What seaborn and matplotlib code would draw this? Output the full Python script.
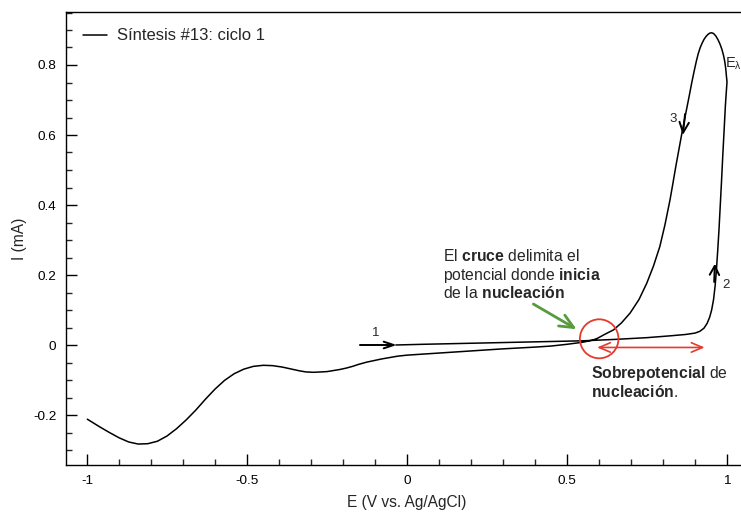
import matplotlib
matplotlib.use("Agg")
import matplotlib.pyplot as plt
import numpy as np
import pandas as pd
import seaborn as sns
from matplotlib.patches import Ellipse
from matplotlib.ticker import MultipleLocator, FuncFormatter

# Cyclic voltammogram, synthesis #13, cycle 1 (E in V vs. Ag/AgCl, I in mA)
e_forward = [-0.035, 0.05, 0.15, 0.25, 0.35, 0.45, 0.55, 0.65, 0.75, 0.82,
             0.87, 0.90, 0.915, 0.928, 0.938, 0.946, 0.952, 0.958, 0.963,
             0.967, 0.971, 0.975, 0.979, 0.983, 0.987, 0.991, 0.995, 1.000]
i_forward = [0.000, 0.002, 0.004, 0.006, 0.008, 0.010, 0.012, 0.016, 0.021, 0.026,
             0.030, 0.034, 0.039, 0.048, 0.062, 0.080, 0.100, 0.130, 0.170,
             0.215, 0.270, 0.330, 0.400, 0.470, 0.545, 0.614, 0.685, 0.752]

e_reverse = [0.998, 0.996, 0.993, 0.989, 0.984, 0.978, 0.972, 0.965, 0.958, 0.952,
             0.946, 0.940, 0.934, 0.928, 0.922, 0.916, 0.910, 0.904, 0.897, 0.890,
             0.882, 0.874, 0.866, 0.858, 0.849, 0.840, 0.831, 0.822, 0.806, 0.790,
             0.770, 0.749, 0.725, 0.697, 0.670, 0.645, 0.617, 0.595, 0.580, 0.550,
             0.500, 0.450, 0.400, 0.300, 0.200, 0.100, 0.050, 0.000, -0.030, -0.080,
             -0.126, -0.150, -0.170, -0.190, -0.210, -0.230, -0.250, -0.270, -0.293,
             -0.315, -0.335, -0.360, -0.390, -0.420, -0.449, -0.480, -0.510, -0.540,
             -0.570, -0.600, -0.630, -0.660, -0.690, -0.720, -0.750, -0.780, -0.810,
             -0.840, -0.870, -0.900, -0.930, -0.960, -0.999]
i_reverse = [0.770, 0.790, 0.810, 0.828, 0.845, 0.860, 0.872, 0.883, 0.890, 0.892,
             0.891, 0.887, 0.881, 0.873, 0.862, 0.849, 0.832, 0.810, 0.781, 0.750,
             0.712, 0.675, 0.638, 0.600, 0.555, 0.510, 0.462, 0.415, 0.343, 0.281,
             0.225, 0.176, 0.130, 0.091, 0.063, 0.043, 0.030, 0.019, 0.014, 0.008,
             0.002, -0.003, -0.006, -0.011, -0.017, -0.023, -0.026, -0.029, -0.032, -0.040,
             -0.049, -0.055, -0.061, -0.066, -0.070, -0.073, -0.076, -0.077, -0.078,
             -0.077, -0.074, -0.069, -0.063, -0.059, -0.058, -0.061, -0.069, -0.082,
             -0.101, -0.126, -0.155, -0.186, -0.214, -0.239, -0.260, -0.275, -0.282,
             -0.283, -0.277, -0.265, -0.250, -0.234, -0.212]

series_label = "Síntesis #13: ciclo 1"
x_label = "E (V vs. Ag/AgCl)"
y_label = "I (mA)"

sns.set_theme(style="ticks")
plt.rcParams.update({
    "font.family": ["Liberation Sans", "DejaVu Sans"],
    "mathtext.fontset": "custom",
    "mathtext.rm": "Liberation Sans",
    "mathtext.bf": "Liberation Sans:bold",
    "mathtext.it": "Liberation Sans:italic",
    "axes.unicode_minus": False,
    "xtick.direction": "in",
    "ytick.direction": "in",
    "axes.edgecolor": "black",
    "axes.linewidth": 1.0,
})

W, H = 741, 512
fig = plt.figure(figsize=(W / 100, H / 100), dpi=100)
fig.patch.set_facecolor("white")

# axes frame in pixel units; the right edge runs past the figure border
left_px, right_px, top_px, bottom_px = 66, 750, 12, 465
ax = fig.add_axes([left_px / W, 1 - bottom_px / H,
                   (right_px - left_px) / W, (bottom_px - top_px) / H])
ax.set_facecolor("white")

df = pd.DataFrame({"E": e_forward + e_reverse, "I": i_forward + i_reverse})
sns.lineplot(data=df, x="E", y="I", sort=False, estimator=None, ax=ax,
             color="black", linewidth=1.1, label=series_label)

ax.set_xlim((left_px - 407) / 320, (right_px - 407) / 320)
ax.set_ylim((345 - bottom_px) / 350, (345 - top_px) / 350)

ax.xaxis.set_major_locator(MultipleLocator(0.5))
ax.xaxis.set_minor_locator(MultipleLocator(0.1))
ax.yaxis.set_major_locator(MultipleLocator(0.2))
ax.yaxis.set_minor_locator(MultipleLocator(0.05))
fmt = FuncFormatter(lambda v, p: "0" if abs(v) < 1e-9 else f"{v:g}")
ax.xaxis.set_major_formatter(fmt)
ax.yaxis.set_major_formatter(fmt)
ax.tick_params(which="major", length=7.8, width=1.0, labelsize=9.7, pad=7,
               colors="black", top=False, right=False)
ax.tick_params(which="minor", length=4.1, width=1.0, top=False, right=False)
ax.set_xlabel("")
ax.set_ylabel("")
for s in ["left", "bottom", "top", "right"]:
    ax.spines[s].set_visible(True)
    ax.spines[s].set_color("black")

fig.text(407 / W, 1 - 507 / H, x_label, ha="center", va="baseline", fontsize=11.2)
fig.text(19.5 / W, 1 - 239 / H, y_label, ha="center", va="center",
         rotation=90, fontsize=11.2)

ax.legend(loc="center left", bbox_to_anchor=(83 / W, 1 - 36 / H),
          bbox_transform=fig.transFigure, frameon=False, fontsize=12,
          handlelength=1.44, handletextpad=0.6, borderpad=0, borderaxespad=0)

# scan-direction arrows
black_head = "->,head_length=0.72,head_width=0.24"
ax.annotate("", xy=(-0.032, 0.0), xytext=(-0.147, 0.0),
            arrowprops=dict(arrowstyle=black_head, lw=1.4, color="black",
                            shrinkA=0, shrinkB=0, mutation_scale=10))
ax.annotate("", xy=(0.962, 0.232), xytext=(0.960, 0.18),
            arrowprops=dict(arrowstyle="->,head_length=0.65,head_width=0.34",
                            lw=1.4, color="black", shrinkA=0, shrinkB=0,
                            mutation_scale=10))
ax.annotate("", xy=(0.862, 0.600), xytext=(0.869, 0.660),
            arrowprops=dict(arrowstyle="->,head_length=0.75,head_width=0.34",
                            lw=1.4, color="black", shrinkA=0, shrinkB=0,
                            mutation_scale=10))
ax.text(-0.097, 0.034, "1", ha="center", va="center", fontsize=9.5)
ax.text(0.996, 0.171, "2", ha="center", va="center", fontsize=9.5)
ax.text(0.832, 0.645, "3", ha="center", va="center", fontsize=9.5)
ax.text(0.993, 0.803, r"E$_\mathrm{\lambda}$", ha="left", va="center",
        fontsize=10.5, clip_on=False)

# crossing point and nucleation overpotential
red = "#e53a2c"
green = "#579b3e"
ax.add_patch(Ellipse((0.6006, 0.0177), width=38.6 / 320, height=39 / 350,
                     fill=False, edgecolor=red, lw=1.3, zorder=5))
ax.annotate("", xy=(0.930, -0.007), xytext=(0.594, -0.007),
            arrowprops=dict(arrowstyle="<->,head_length=0.8,head_width=0.34",
                            lw=1.2, color=red, shrinkA=0, shrinkB=0,
                            mutation_scale=10))
ax.annotate("", xy=(0.530, 0.045), xytext=(0.395, 0.117),
            arrowprops=dict(arrowstyle="->,head_length=1.0,head_width=0.45",
                            lw=2.0, color=green, shrinkA=0, shrinkB=0,
                            mutation_scale=10))

note_size = 11.3
ax.text(0.1135, 0.2409, r"El $\mathbf{cruce}$ delimita el", ha="left",
        va="baseline", fontsize=note_size)
ax.text(0.1135, 0.1857, r"potencial donde $\mathbf{inicia}$", ha="left",
        va="baseline", fontsize=note_size)
ax.text(0.1135, 0.1334, r"de la $\mathbf{nucleación}$", ha="left",
        va="baseline", fontsize=note_size)
ax.text(0.574, -0.0951, r"$\mathbf{Sobrepotencial}$ de", ha="left",
        va="baseline", fontsize=note_size)
ax.text(0.574, -0.1477, r"$\mathbf{nucleación}$.", ha="left",
        va="baseline", fontsize=note_size)

fig.savefig("out.png", dpi=100)
